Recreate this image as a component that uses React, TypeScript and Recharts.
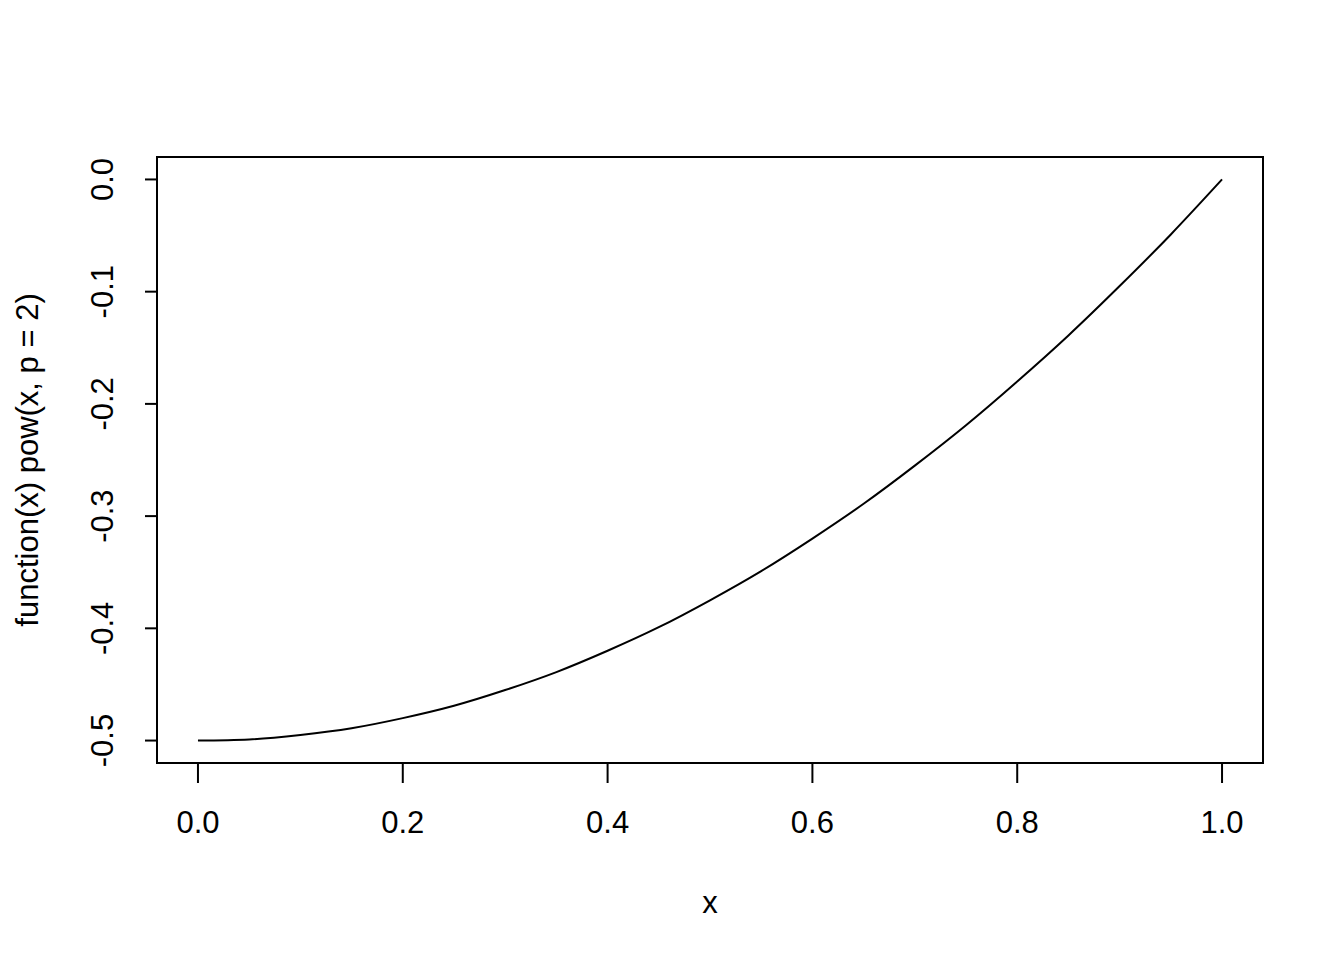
import { LineChart, Line, XAxis, YAxis, ReferenceArea, Label } from "recharts"

const xValues = [0, 0.05, 0.1, 0.15, 0.2, 0.25, 0.3, 0.35, 0.4, 0.45, 0.5, 0.55, 0.6, 0.65, 0.7, 0.75, 0.8, 0.85, 0.9, 0.95, 1.0]
const yValues = [-0.5, -0.499, -0.495, -0.489, -0.48, -0.469, -0.455, -0.439, -0.42, -0.399, -0.375, -0.349, -0.32, -0.289, -0.255, -0.219, -0.18, -0.139, -0.095, -0.049, 0]
const xTicks = [0, 0.2, 0.4, 0.6, 0.8, 1.0]
const yTicks = [-0.5, -0.4, -0.3, -0.2, -0.1, 0.0]

const data = xValues.map((x, i) => ({ x, y: yValues[i] }))

const FONT = "'Liberation Sans', Arial, sans-serif"
const FS = 31

function XTick(props: any) {
  const { x, y, payload } = props
  return (
    <g>
      <line x1={x} y1={y - 8} x2={x} y2={y + 12} stroke="#000" strokeWidth={2} />
      <text x={x} y={y + 62} textAnchor="middle" fontFamily={FONT} fontSize={FS} fill="#000">
        {payload.value.toFixed(1)}
      </text>
    </g>
  )
}

function YTick(props: any) {
  const { y, payload } = props
  const tx = 113
  return (
    <g>
      <line x1={145} y1={y} x2={157} y2={y} stroke="#000" strokeWidth={2} />
      <text x={tx} y={y} textAnchor="middle" transform={`rotate(-90 ${tx} ${y})`} fontFamily={FONT} fontSize={FS} fill="#000">
        {payload.value.toFixed(1)}
      </text>
    </g>
  )
}

export default function App() {
  return (
    <div style={{ position: "absolute", left: 0, top: 0, background: "#fff" }}>
      <LineChart width={1344} height={960} data={data} margin={{ top: 157, right: 81, bottom: 137, left: 97 }}>
        <XAxis
          dataKey="x"
          type="number"
          domain={[-0.04, 1.04]}
          ticks={xTicks}
          tick={<XTick />}
          tickLine={false}
          axisLine={false}
          height={60}
          interval={0}
        >
          <Label
            content={({ viewBox }: any) => (
              <text x={viewBox.x + viewBox.width / 2} y={913} textAnchor="middle" fontFamily={FONT} fontSize={FS} fill="#000">
                x
              </text>
            )}
          />
        </XAxis>
        <YAxis
          type="number"
          domain={[-0.52, 0.02]}
          ticks={yTicks}
          tick={<YTick />}
          tickLine={false}
          axisLine={false}
          width={60}
          interval={0}
        >
          <Label
            content={({ viewBox }: any) => {
              const cy = viewBox.y + viewBox.height / 2
              return (
                <text x={38} y={cy} textAnchor="middle" transform={`rotate(-90 38 ${cy})`} fontFamily={FONT} fontSize={FS} fill="#000">
                  function(x) pow(x, p = 2)
                </text>
              )
            }}
          />
        </YAxis>
        <ReferenceArea x1={-0.04} x2={1.04} y1={-0.52} y2={0.02} fill="none" stroke="#000" strokeWidth={2} ifOverflow="extendDomain" />
        <Line dataKey="y" type="monotone" stroke="#000" strokeWidth={2} dot={false} isAnimationActive={false} />
      </LineChart>
    </div>
  )
}
